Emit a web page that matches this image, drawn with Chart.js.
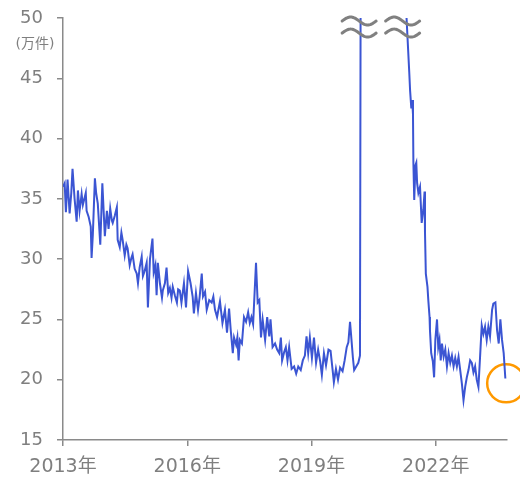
<!DOCTYPE html>
<html><head><meta charset="utf-8">
<script src="https://cdn.jsdelivr.net/npm/chart.js@4"></script>
<style>html,body{margin:0;padding:0;background:#fff;} #wrap{width:520px;height:485px;position:relative;}</style>
</head><body><div id="wrap"><canvas id="c" width="520" height="485"></canvas></div>
<script>
// decimal year of each observation
const years = [
2013.00,2013.04,2013.07,2013.11,2013.16,2013.20,2013.23,2013.28,2013.33,2013.36,2013.40,2013.45,2013.48,2013.55,2013.57,2013.62,2013.67,2013.69,2013.72,2013.77,2013.80,2013.84,2013.90,2013.95,
2014.01,2014.06,2014.10,2014.14,2014.18,2014.20,2014.25,2014.30,2014.32,2014.37,2014.41,2014.44,2014.49,2014.53,2014.56,2014.61,2014.65,2014.68,2014.73,2014.78,2014.81,2014.85,2014.90,2014.93,2014.97,
2015.02,2015.05,2015.10,2015.16,2015.19,2015.23,2015.26,2015.29,2015.34,2015.39,2015.41,2015.46,2015.50,2015.54,2015.58,2015.62,2015.65,2015.70,2015.75,2015.78,2015.82,2015.86,2015.92,2015.97,
2016.02,2016.08,2016.13,2016.16,2016.21,2016.26,2016.30,2016.35,2016.38,2016.43,2016.47,2016.53,2016.59,2016.63,2016.67,2016.72,2016.79,2016.85,2016.91,2016.96,
2017.01,2017.05,2017.10,2017.13,2017.18,2017.21,2017.24,2017.27,2017.32,2017.37,2017.42,2017.47,2017.51,2017.55,2017.59,2017.66,2017.70,2017.74,2017.78,2017.82,2017.88,2017.93,2017.98,
2018.01,2018.06,2018.12,2018.17,2018.22,2018.26,2018.29,2018.34,2018.38,2018.42,2018.46,2018.52,2018.58,2018.63,2018.68,2018.74,2018.79,2018.84,2018.88,2018.92,2018.96,
2019.01,2019.06,2019.11,2019.16,2019.21,2019.25,2019.30,2019.35,2019.41,2019.46,2019.51,2019.54,2019.59,2019.64,2019.69,2019.75,2019.80,2019.85,2019.89,2019.93,2019.97,
2020.00,2020.03,2020.08,2020.13,2020.17,2020.19,2020.21,2020.30,2020.50,2020.70,2020.90,
2021.10,2021.20,2021.28,2021.36,2021.38,2021.41,2021.43,2021.45,2021.46,2021.48,2021.51,2021.53,2021.55,2021.58,2021.62,2021.66,2021.70,2021.73,2021.74,2021.76,2021.80,2021.82,2021.85,2021.86,2021.89,2021.93,2021.96,2021.99,
2022.03,2022.06,2022.09,2022.12,2022.15,2022.19,2022.23,2022.27,2022.31,2022.35,2022.39,2022.43,2022.47,2022.51,2022.55,2022.59,2022.63,2022.67,2022.71,2022.75,2022.79,2022.83,2022.87,2022.91,2022.95,2022.99,
2023.03,2023.07,2023.11,2023.15,2023.19,2023.23,2023.27,2023.31,2023.36,2023.39,2023.44,2023.48,2023.52,2023.56,2023.60,2023.64,2023.68
];
// values in 万件
const values = [
36.0,36.3,33.9,36.6,33.8,35.5,37.5,35.0,33.1,35.7,34.0,35.4,34.5,35.5,34.0,33.5,32.7,30.1,32.0,36.7,35.5,34.6,31.2,36.3,
31.9,34.0,32.5,34.2,33.2,33.0,33.6,34.3,31.6,31.0,32.2,31.6,30.3,31.2,30.9,29.5,30.1,30.4,29.2,28.8,28.0,29.3,30.2,28.6,29.0,
29.7,26.0,30.0,31.7,28.9,29.5,27.0,29.7,28.0,26.8,27.4,28.0,29.3,27.2,27.6,26.8,27.7,27.0,26.4,27.5,27.4,26.4,28.0,26.0,
29.0,28.0,26.9,25.5,27.2,25.8,26.9,28.8,26.9,27.3,25.8,26.6,26.4,26.9,25.8,25.2,26.5,24.7,25.8,23.9,
25.9,24.1,22.2,23.5,22.9,23.5,21.6,23.3,23.0,25.2,24.8,25.6,24.7,25.2,24.6,29.7,26.4,26.6,23.5,25.0,23.3,25.2,23.6,
25.0,22.7,23.0,22.5,22.2,23.5,21.6,22.3,22.7,21.6,22.7,20.9,21.1,20.5,21.1,20.8,21.6,22.0,23.6,22.2,23.5,
21.8,23.5,21.4,22.5,21.5,20.4,22.2,21.2,22.5,22.4,20.8,19.8,20.9,20.0,21.0,20.7,21.6,22.7,23.1,24.8,23.1,
21.8,20.8,21.1,21.4,22.0,60.0,75.0,95.0,110.0,90.0,80.0,
70.0,62.0,51.0,45.5,44.0,42.5,43.2,42.0,38.0,34.9,37.8,38.0,36.3,35.5,36.0,33.0,34.1,35.6,32.2,28.8,27.7,26.6,25.2,24.1,22.2,21.5,20.2,23.3,
25.0,22.7,23.3,21.6,23.0,21.9,22.5,21.1,22.2,21.4,22.0,21.1,21.8,21.1,21.9,20.8,19.7,18.3,19.4,20.2,20.8,21.6,21.4,20.6,21.1,20.0,
19.4,21.9,24.5,23.8,24.4,23.3,24.4,23.6,25.8,26.3,26.4,24.1,23.0,25.0,23.3,22.2,20.1
];
const xTicks = [2013, 2016, 2019, 2022];
const xMin = 2013, xMax = 2023.72;
const yMin = 15, yMax = 50, yStep = 5;
const highlightYear = [2023.70];
const highlightValue = [19.7];
const breakYears = [2020.15, 2021.20];
const breakValues = [49.75, 48.75];
const unitLabel = '(万件)';

const GRAY = '#7f7f7f';
const AXIS = '#8a8a8a';
const FONT = "'DejaVu Sans', 'Noto Sans CJK JP', sans-serif";

const lineData = years.map((x, i) => ({x, y: values[i]}));
const hlData = highlightYear.map((x, i) => ({x, y: highlightValue[i]}));

const overlay = {
  id: 'overlay',
  afterDatasetsDraw(chart) {
    const ctx = chart.ctx;
    const xs = chart.scales.x, ys = chart.scales.y;
    ctx.save();
    ctx.strokeStyle = '#808080';
    ctx.lineWidth = 3;
    ctx.lineCap = 'round';
    breakYears.forEach(yr => {
      const cx = xs.getPixelForValue(yr);
      breakValues.forEach(v => {
        const cy = ys.getPixelForValue(v);
        ctx.beginPath();
        const w = 34, a = 4;
        for (let k = 0; k <= 40; k++) {
          const t = k / 40;
          const px = cx - w / 2 + t * w;
          const py = cy - a * Math.sin(2 * Math.PI * t);
          if (k === 0) ctx.moveTo(px, py); else ctx.lineTo(px, py);
        }
        ctx.stroke();
      });
    });
    ctx.restore();
  },
  afterDraw(chart) {
    const ctx = chart.ctx;
    ctx.save();
    ctx.fillStyle = GRAY;
    ctx.font = "14px " + FONT;
    ctx.textAlign = 'center';
    ctx.textBaseline = 'middle';
    const ys = chart.scales.y;
    ctx.fillText(unitLabel, chart.chartArea.left - 28, ys.getPixelForValue(47.8));
    ctx.restore();
  }
};

new Chart(document.getElementById('c'), {
  type: 'line',
  data: {
    datasets: [
      {
        data: lineData,
        borderColor: '#3B55D3',
        borderWidth: 2,
        pointRadius: 0,
        tension: 0,
        fill: false
      },
      {
        type: 'scatter',
        data: hlData,
        pointRadius: 19,
        pointHoverRadius: 19,
        pointStyle: 'circle',
        borderColor: '#FF9900',
        backgroundColor: 'rgba(0,0,0,0)',
        borderWidth: 2.5,
        clip: false
      }
    ]
  },
  options: {
    responsive: false,
    animation: false,
    events: [],
    layout: { autoPadding: false, padding: { left: 0, top: 18, right: 13, bottom: 0 } },
    plugins: { legend: { display: false }, tooltip: { enabled: false } },
    scales: {
      x: {
        type: 'linear',
        min: xMin, max: xMax,
        afterBuildTicks(s) { s.ticks = xTicks.map(v => ({value: v})); },
        afterFit(s) { s.height = 45; s.paddingLeft = 0; s.paddingRight = 0; },
        grid: { display: true, drawOnChartArea: false, drawTicks: true, tickLength: 6, color: AXIS, lineWidth: 1.5 },
        border: { display: true, color: AXIS, width: 1.5 },
        ticks: {
          color: GRAY, padding: 10, maxRotation: 0, autoSkip: false,
          font: { family: FONT, size: 19 },
          callback: v => v + '年'
        }
      },
      y: {
        min: yMin, max: yMax,
        ticks: { stepSize: yStep, color: GRAY, padding: 14, font: { family: FONT, size: 18 } },
        afterFit(s) { s.width = 63; s.paddingTop = 0; s.paddingBottom = 0; },
        grid: { display: true, drawOnChartArea: false, drawTicks: true, tickLength: 6, color: AXIS, lineWidth: 1.5 },
        border: { display: true, color: AXIS, width: 1.5 }
      }
    }
  },
  plugins: [overlay]
});
</script>
</body></html>
